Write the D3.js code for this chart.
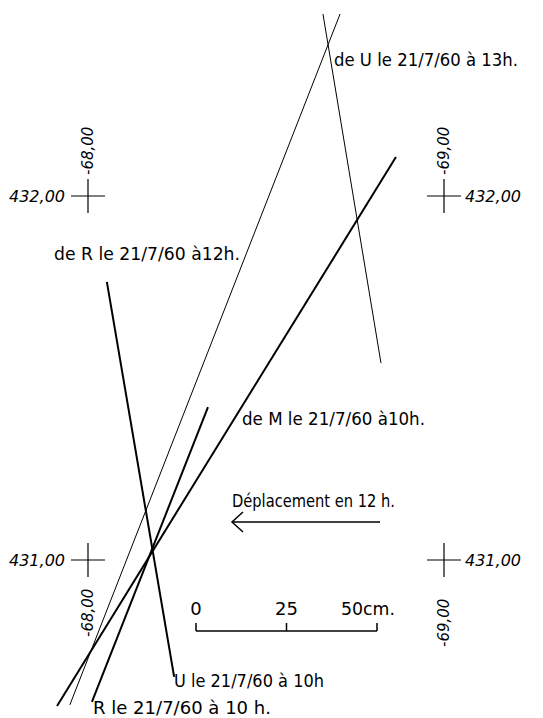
<!DOCTYPE html>
<html>
<head>
<meta charset="utf-8">
<script src="https://cdn.jsdelivr.net/npm/d3@7"></script>
<style>
html,body{margin:0;padding:0;background:#fff;}
svg{display:block;}
text{font-family:"DejaVu Sans",sans-serif;fill:#000;}
</style>
</head>
<body>
<svg id="chart" width="543" height="718"></svg>
<script>
// Grid reference crosses (x = -68.00 / -69.00, y = 432.00 / 431.00)
const gridX = [-68, -69];
const gridY = [432, 431];
const gridXLabels = ["-68,00", "-69,00"];
const gridYLabels = ["432,00", "431,00"];

// Direction lines: [x1, y1, x2, y2] in grid units
const lineNames = ["U13", "U13b", "M10", "R12", "R10"];
const lineX1 = [-68.708, -68.660, -68.865, -68.053, -68.337];
const lineY1 = [432.500, 432.500, 432.107, 431.764, 431.420];
const lineX2 = [-67.949, -68.823, -67.913, -68.242, -68.011];
const lineY2 = [430.602, 431.541, 430.599, 430.679, 430.610];
const lineWeight = ["thin", "thin", "bold", "bold", "bold"];

// Scale bar
const scaleTicks = [0, 25, 50];
const scaleTickLabels = ["0", "25", "50cm."];

const svg = d3.select("#chart");
const x = d3.scaleLinear().domain([-68, -69]).range([88, 444]);
const y = d3.scaleLinear().domain([432, 431]).range([196, 560]);

// crosses
const crosses = [];
gridX.forEach((gx, i) => gridY.forEach((gy, j) => crosses.push({gx, gy, i, j})));
const arm = 17;
crosses.forEach(c => {
  const cx = x(c.gx), cy = y(c.gy);
  svg.append("line").attr("x1", cx - arm).attr("x2", cx + arm).attr("y1", cy).attr("y2", cy)
    .attr("stroke", "#000").attr("stroke-width", 1.2);
  svg.append("line").attr("x1", cx).attr("x2", cx).attr("y1", cy - arm).attr("y2", cy + arm)
    .attr("stroke", "#000").attr("stroke-width", 1.2);
  const left = c.i === 0;
  svg.append("text")
    .attr("x", left ? cx - arm - 6 : cx + arm + 4)
    .attr("y", cy + 6)
    .attr("text-anchor", left ? "end" : "start")
    .attr("font-style", "italic")
    .attr("font-size", 15)
    .attr("textLength", 56).attr("lengthAdjust", "spacingAndGlyphs")
    .text(gridYLabels[c.j]);
  const top = c.j === 0;
  const startY = top ? cy - arm - 4 : cy + arm + (c.i === 0 ? 60 : 70);
  svg.append("text")
    .attr("transform", `translate(${cx + 5},${startY}) rotate(-90)`)
    .attr("text-anchor", "start")
    .attr("font-style", "italic")
    .attr("font-size", 15)
    .text(gridXLabels[c.i]);
});

// lines
lineNames.forEach((n, k) => {
  svg.append("line")
    .attr("x1", x(lineX1[k])).attr("y1", y(lineY1[k]))
    .attr("x2", x(lineX2[k])).attr("y2", y(lineY2[k]))
    .attr("stroke", "#000")
    .attr("stroke-width", lineWeight[k] === "thin" ? 1 : 2);
});

// labels
const labels = [
  {t: "de U le 21/7/60 à 13h.", x: 334, y: 66, w: 184},
  {t: "de R le 21/7/60 à12h.", x: 54, y: 260, w: 186},
  {t: "de M le 21/7/60 à10h.", x: 242, y: 425, w: 183},
  {t: "Déplacement en 12 h.", x: 232, y: 507, w: 163},
  {t: "U le 21/7/60 à 10h", x: 174, y: 687, w: 150},
  {t: "R le 21/7/60 à 10 h.", x: 93, y: 714, w: 178}
];
labels.forEach(l => {
  svg.append("text").attr("x", l.x).attr("y", l.y)
    .attr("font-size", 18)
    .attr("textLength", l.w).attr("lengthAdjust", "spacingAndGlyphs")
    .text(l.t);
});

// arrow
const ay = 522;
svg.append("line").attr("x1", 380).attr("x2", 232).attr("y1", ay).attr("y2", ay)
  .attr("stroke", "#000").attr("stroke-width", 1.5);
svg.append("path").attr("d", `M243,${ay - 10} L232,${ay} L243,${ay + 10}`)
  .attr("fill", "none").attr("stroke", "#000").attr("stroke-width", 1.5);

// scale bar
const s = d3.scaleLinear().domain([0, 50]).range([196, 377]);
const by = 631;
svg.append("line").attr("x1", s(0)).attr("x2", s(50)).attr("y1", by).attr("y2", by)
  .attr("stroke", "#000").attr("stroke-width", 1.5);
scaleTicks.forEach((v, i) => {
  svg.append("line").attr("x1", s(v)).attr("x2", s(v)).attr("y1", by).attr("y2", by - 8)
    .attr("stroke", "#000").attr("stroke-width", 1.5);
  const t = svg.append("text").attr("x", s(v)).attr("y", 615)
    .attr("text-anchor", i === 2 ? "start" : "middle")
    .attr("dx", i === 2 ? -36 : 0)
    .attr("font-size", 18)
    .text(scaleTickLabels[i]);
  if (i === 2) t.attr("textLength", 54).attr("lengthAdjust", "spacingAndGlyphs");
});
</script>
</body>
</html>
